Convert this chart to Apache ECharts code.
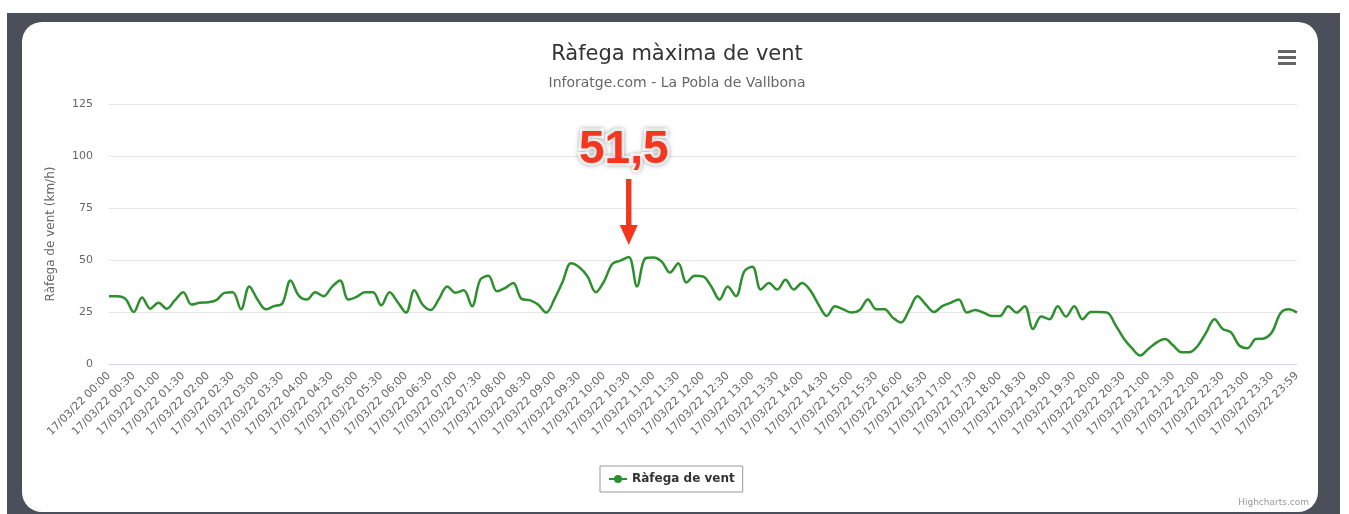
<!DOCTYPE html>
<html>
<head>
<meta charset="utf-8">
<script src="https://cdn.jsdelivr.net/npm/echarts@6/dist/echarts.min.js"></script>
<style>
  html, body { margin: 0; padding: 0; background: #fff; }
  #frame { position: absolute; left: 7px; top: 13px; width: 1333px; height: 501px; background: #4b4f59; }
  #card { position: absolute; left: 22px; top: 22px; width: 1296px; height: 490px; background: #fff; border-radius: 20px; }
  #main { position: absolute; left: 0; top: 0; width: 1349px; height: 514px; }
</style>
</head>
<body>
<div id="frame"></div>
<div id="card"></div>
<div id="main"></div>
<script>
// rafega maxima cada 10 minuts, 17/03/22
var hores = [];
for (var h = 0; h < 24; h++) {
  for (var m = 0; m < 60; m += 10) {
    hores.push("17/03/22 " + (h < 10 ? "0" + h : h) + ":" + (m < 10 ? "0" + m : m));
  }
}
hores.push("17/03/22 23:59");

var rafega = [
  32.6, 32.6, 31.3, 25, 32, 26.6, 29.4, 26.6, 30.7, 34.5,
  28.6, 29.4, 29.7, 30.7, 34.2, 34.5, 26.3, 37.3, 31, 26.3,
  27.8, 29.1, 40.2, 32.9, 31, 34.5, 32.6, 37, 40.2, 31,
  32.3, 34.5, 34.5, 28.2, 34.5, 29.7, 24.7, 35.4, 28.6, 26,
  31.3, 37.3, 34.2, 35.4, 27.8, 40.5, 42.4, 35, 36.5, 38.9,
  31.3, 30.7, 28.6, 24.7, 31.3, 39.7, 48.4, 46.5, 42.1, 34.5,
  39.7, 48.1, 49.7, 51.5, 37.3, 50.8, 51.2, 49.2, 44, 48.4,
  39.2, 42.4, 42.1, 37.3, 31, 37.3, 32.6, 44.5, 46.8, 35.8,
  38.9, 35.8, 40.5, 35.8, 38.9, 35.4, 28.6, 23.1, 27.8, 26.3,
  24.7, 26, 31, 26.3, 26.3, 22.3, 19.9, 26, 32.6, 28.6,
  25, 27.8, 29.4, 31, 24.7, 26, 24.7, 23.1, 23.1, 27.8,
  24.7, 27.8, 16.8, 22.8, 21.5, 27.8, 22.8, 27.8, 21.5, 25,
  25, 24.7, 18.7, 12.3, 7.6, 4.1, 7.3, 10.4, 12, 8.9,
  5.7, 5.7, 8.9, 15.2, 21.5, 16.8, 15.2, 8.9, 7.6, 12,
  12.3, 15.5, 24.4, 26.3, 24.7
];

var maxIdx = 63;
var maxText = "51,5";

var font = "'DejaVu Sans', sans-serif";
var myChart = echarts.init(document.getElementById("main"));

var option = {
  animation: false,
  backgroundColor: "transparent",
  textStyle: { fontFamily: font },
  title: {
    text: "Ràfega màxima de vent",
    subtext: "Inforatge.com - La Pobla de Vallbona",
    left: 672,
    top: 39,
    textAlign: "center",
    itemGap: 11,
    textStyle: { fontFamily: font, fontSize: 21, fontWeight: "normal", color: "#333" },
    subtextStyle: { fontFamily: font, fontSize: 14, color: "#666" }
  },
  legend: {
    data: ["Ràfega de vent"],
    left: 600,
    top: 466,
    padding: [7, 8, 7, 8],
    borderColor: "#999",
    borderWidth: 1,
    itemWidth: 18,
    itemHeight: 10,
    itemGap: 5,
    textStyle: { fontFamily: font, fontSize: 12, fontWeight: "bold", color: "#333" }
  },
  grid: { left: 109, right: 52, top: 104, bottom: 150 },
  xAxis: {
    type: "category",
    data: hores,
    boundaryGap: false,
    axisLine: { lineStyle: { color: "#ccd6eb" } },
    axisTick: { show: false },
    axisLabel: {
      interval: 2,
      rotate: 45,
      margin: 10,
      fontFamily: font,
      fontSize: 11,
      color: "#666"
    }
  },
  yAxis: {
    type: "value",
    min: 0,
    max: 125,
    interval: 25,
    name: "Ràfega de vent (km/h)",
    nameLocation: "middle",
    nameRotate: 90,
    nameGap: 52,
    nameTextStyle: { fontFamily: font, fontSize: 12, color: "#666" },
    axisLine: { show: false },
    axisTick: { show: false },
    axisLabel: { margin: 16, fontFamily: font, fontSize: 11, color: "#666" },
    splitLine: { lineStyle: { color: "#e6e6e6" } }
  },
  graphic: [
    // menu icon
    { type: "rect", left: 1278, top: 50, shape: { width: 18, height: 3 }, style: { fill: "#666" } },
    { type: "rect", left: 1278, top: 56, shape: { width: 18, height: 3 }, style: { fill: "#666" } },
    { type: "rect", left: 1278, top: 62, shape: { width: 18, height: 3 }, style: { fill: "#666" } },
    {
      type: "text", right: 40, top: 498,
      style: { text: "Highcharts.com", font: "9px " + font, fill: "#999" }
    }
  ],
  series: [
    {
      name: "Ràfega de vent",
      type: "line",
      data: rafega,
      smooth: 0.35,
      symbol: "circle",
      symbolSize: 8,
      showSymbol: false,
      color: "#2e8f2e",
      lineStyle: { width: 2.5, color: "#2e8f2e" },
      markPoint: {
        symbol: "path://M7,0 L13,0 L13,46 L20,46 L10,66 L0,46 L7,46 Z",
        symbolSize: [18, 66],
        symbolOffset: [0, -45],
        itemStyle: { color: "#f2361f" },
        label: {
          show: true,
          position: "top",
          distance: 6,
          formatter: maxText,
          fontFamily: "'Liberation Sans', Arial, sans-serif",
          fontSize: 46,
          fontWeight: "bold",
          color: "#f2361f",
          textBorderColor: "#fff",
          textBorderWidth: 5,
          textShadowColor: "rgba(0,0,0,0.3)",
          textShadowBlur: 5,
          offset: [-5, 0]
        },
        data: [{ coord: [maxIdx, rafega[maxIdx]] }]
      }
    }
  ]
};

myChart.setOption(option);
</script>
</body>
</html>
